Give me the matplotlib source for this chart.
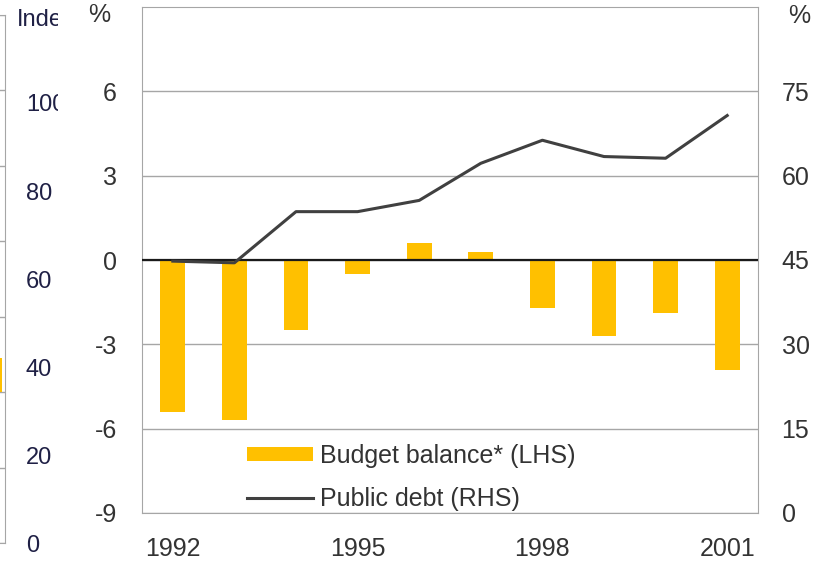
import matplotlib.pyplot as plt
import numpy as np
from matplotlib.patches import Rectangle

plt.rcParams['font.family'] = ['Liberation Sans', 'DejaVu Sans']
plt.rcParams['axes.unicode_minus'] = False

years = ['1992', '1993', '1994', '1995', '1996', '1997', '1998', '1999', '2000', '2001']
budget_balance = [-5.4, -5.7, -2.5, -0.5, 0.6, 0.3, -1.7, -2.7, -1.9, -3.9]
public_debt = [44.8, 44.5, 53.6, 53.6, 55.6, 62.2, 66.3, 63.4, 63.1, 70.7]
lhs_ticks = [-9, -6, -3, 0, 3, 6]
rhs_ticks = [0, 15, 30, 45, 60, 75]
year_labels = ['1992', '1995', '1998', '2001']

# edge of the neighbouring index panel
index_ticks = [0, 20, 40, 60, 80, 100]
index_bar = [0.45]

YELLOW = '#FFC000'
GRID = '#A6A6A6'
TEXT = '#333333'
NAVY = '#1F2045'

W, H = 823, 561
fig = plt.figure(figsize=(W / 100, H / 100), dpi=100)


def box(x0, y0, x1, y1):
    return [x0 / W, 1 - y1 / H, (x1 - x0) / W, (y1 - y0) / H]


# neighbouring panel, mostly off the left edge
sx = fig.add_axes(box(-250, 15, 5, 543))
sx.set_xlim(-0.5, 9.5)
sx.set_ylim(-2, 5)
sx.bar([9], index_bar, width=0.8, color=YELLOW)
sx.set_yticks(range(-2, 6))
sx.yaxis.grid(True, color=GRID, lw=1)
sx.set_axisbelow(True)
sx.tick_params(length=0, labelleft=False, labelbottom=False)
for s in sx.spines.values():
    s.set_color(GRID)
sx2 = sx.twinx()
sx2.set_ylim(0, 120)
sx2.set_yticks(index_ticks)
sx2.tick_params(length=0, pad=15, labelsize=17, labelcolor=NAVY)
for s in sx2.spines.values():
    s.set_visible(False)
fig.text(17 / W, 1 - 20 / H, 'Index', ha='left', va='center', fontsize=17,
         color=NAVY, zorder=0.5)

# white page over the neighbour
fig.add_artist(Rectangle((58 / W, 0), 1, 1, transform=fig.transFigure,
                         facecolor='white', edgecolor='none', zorder=1))

# main chart
ax = fig.add_axes(box(142, 7, 758, 513))
ax.set_zorder(2)
x = np.arange(len(years))
bars = ax.bar(x, budget_balance, width=0.4, color=YELLOW, zorder=2,
              label='Budget balance* (LHS)')
ax.axhline(0, color='#1A1A1A', lw=1.6, zorder=3)
ax.set_xlim(-0.5, len(years) - 0.5)
ax.set_ylim(-9, 9)
ax.set_yticks(lhs_ticks)
ax.yaxis.grid(True, color=GRID, lw=1)
ax.set_axisbelow(True)
ax.set_xticks([years.index(y) for y in year_labels], year_labels)
ax.tick_params(length=0, labelsize=18, colors=TEXT)
ax.tick_params(axis='y', pad=18)
ax.tick_params(axis='x', pad=17)
for s in ax.spines.values():
    s.set_color(GRID)

ax2 = ax.twinx()
ax2.set_zorder(3)
line, = ax2.plot(x, public_debt, color='#404040', lw=2.2, label='Public debt (RHS)')
ax2.set_ylim(0, 90)
ax2.set_yticks(rhs_ticks)
ax2.tick_params(length=0, pad=17, labelsize=18, colors=TEXT)
for s in ax2.spines.values():
    s.set_visible(False)

fig.text(99 / W, 1 - 15 / H, '%', ha='center', va='center', fontsize=18, color=TEXT)
fig.text(799 / W, 1 - 16 / H, '%', ha='center', va='center', fontsize=18, color=TEXT)

leg = ax2.legend([bars, line], [bars.get_label(), line.get_label()],
                 loc='upper left', bbox_to_anchor=(247 / W, 1 - 444 / H),
                 bbox_transform=fig.transFigure, frameon=False, borderpad=0,
                 borderaxespad=0, handlelength=2.64, handleheight=0.5,
                 handletextpad=0.28, labelspacing=0.75, fontsize=18)
for t in leg.get_texts():
    t.set_color(TEXT)

fig.savefig('out.png', dpi=100, facecolor='white')
